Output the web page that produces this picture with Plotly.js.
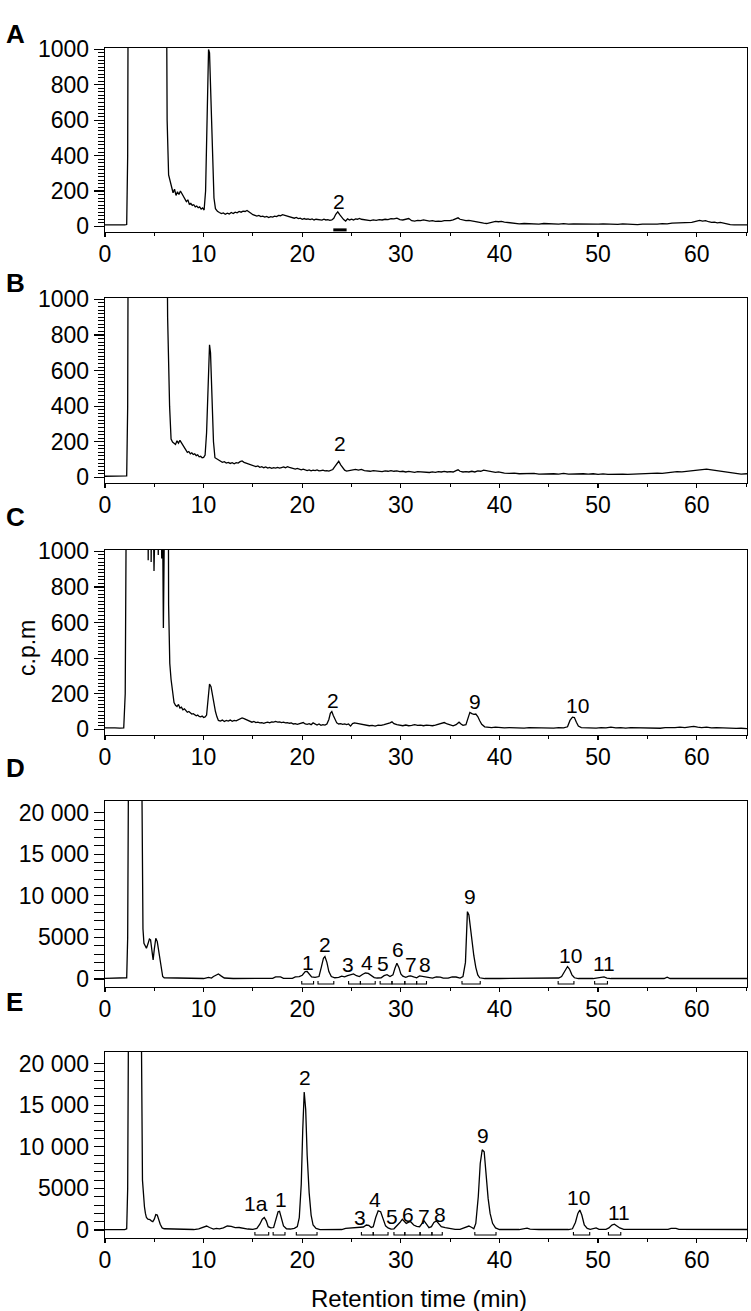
<!DOCTYPE html>
<html>
<head>
<meta charset="utf-8">
<script src="https://cdn.plot.ly/plotly-3.0.1.min.js"></script>
<style>html,body{margin:0;padding:0;background:#fff}#chart{width:751px;height:1311px}</style>
</head>
<body>
<div id="chart"></div>
<script>
// [retention time (min), signal]
const chromA = [[0,8],[0.5,7],[1,8],[1.5,6],[2,8],[2.2,10],[2.3,400],[2.38,2000],[3,3000],[6.1,3000],[6.3,600],[6.45,290],[6.6,260],[6.75,235],[6.9,190],[7.05,210],[7.2,175],[7.35,195],[7.5,180],[7.65,200],[7.8,185],[7.95,170],[8.1,160],[8.25,140],[8.4,150],[8.55,125],[8.7,130],[8.85,118],[9,122],[9.15,110],[9.3,115],[9.45,105],[9.6,110],[9.75,98],[9.9,104],[10.05,92],[10.2,200],[10.35,600],[10.5,1000],[10.6,980],[10.75,700],[10.9,380],[11.05,160],[11.2,100],[11.4,85],[11.6,78],[11.8,72],[12,76],[12.2,68],[12.4,74],[12.6,70],[12.8,78],[13,72],[13.2,80],[13.4,76],[13.6,84],[13.8,80],[14,86],[14.2,84],[14.4,90],[14.6,80],[14.8,74],[15,66],[15.2,62],[15.4,58],[15.6,62],[15.8,55],[16,58],[16.2,52],[16.4,56],[16.6,50],[16.8,55],[17,52],[17.2,58],[17.4,55],[17.6,62],[17.8,60],[18,66],[18.2,62],[18.4,58],[18.6,55],[18.8,52],[19,50],[19.2,46],[19.4,50],[19.6,44],[19.8,46],[20,40],[20.2,44],[20.4,40],[20.6,42],[20.8,38],[21,42],[21.2,36],[21.4,40],[21.6,37],[21.8,38],[22,35],[22.2,40],[22.4,36],[22.6,38],[22.8,34],[23,36],[23.2,45],[23.4,68],[23.6,82],[23.8,66],[24,48],[24.2,38],[24.4,30],[24.6,42],[24.8,36],[25,40],[25.2,36],[25.4,42],[25.6,40],[25.8,45],[26,40],[26.3,36],[26.6,34],[26.9,32],[27.2,36],[27.5,34],[27.8,38],[28.1,36],[28.4,40],[28.7,38],[29,44],[29.3,42],[29.6,46],[29.9,38],[30.2,36],[30.5,38],[30.8,44],[31.1,32],[31.4,30],[31.7,34],[32,32],[32.3,36],[32.6,33],[32.9,30],[33.2,32],[33.5,28],[33.8,30],[34.1,28],[34.4,32],[34.7,30],[35,32],[35.3,36],[35.6,42],[35.8,48],[36,40],[36.3,34],[36.6,32],[36.9,34],[37.2,30],[37.5,28],[37.8,24],[38.1,20],[38.4,18],[38.7,16],[39,20],[39.3,24],[39.6,28],[39.9,26],[40.2,28],[40.5,24],[40.8,22],[41.1,18],[41.4,16],[41.7,18],[42,14],[42.5,16],[43,14],[43.5,16],[44,12],[44.5,16],[45,14],[45.5,16],[46,13],[46.5,15],[47,12],[47.5,14],[48,13],[48.5,14],[49,12],[49.5,14],[50,12],[50.5,14],[51,12],[51.5,13],[52,11],[52.5,14],[53,12],[53.5,14],[54,10],[54.5,12],[55,11],[55.5,13],[56,12],[56.5,15],[57,14],[57.5,18],[58,20],[58.5,18],[59,24],[59.5,22],[60,30],[60.3,34],[60.6,30],[60.9,32],[61.2,26],[61.5,22],[61.8,24],[62.1,20],[62.4,22],[62.7,18],[63,14],[63.4,10],[63.8,8],[64.2,9],[64.6,8],[65.1,8]];

const chromB = [[0,6],[0.5,7],[1,5],[1.5,7],[2,6],[2.2,8],[2.3,400],[2.38,2000],[3,3000],[6.1,3000],[6.35,900],[6.55,400],[6.7,215],[6.85,198],[7,192],[7.15,185],[7.3,205],[7.45,192],[7.6,208],[7.75,195],[7.9,180],[8.05,165],[8.2,150],[8.35,140],[8.5,145],[8.65,132],[8.8,138],[8.95,128],[9.1,132],[9.25,122],[9.4,126],[9.55,115],[9.7,118],[9.85,110],[10,112],[10.15,125],[10.3,250],[10.45,550],[10.6,745],[10.7,700],[10.85,450],[11,200],[11.15,110],[11.3,104],[11.5,96],[11.7,90],[11.9,84],[12.1,88],[12.3,80],[12.5,84],[12.7,78],[12.9,82],[13.1,76],[13.3,82],[13.5,80],[13.7,88],[13.9,92],[14.1,84],[14.3,80],[14.5,76],[14.7,70],[14.9,68],[15.1,62],[15.3,60],[15.5,64],[15.7,56],[15.9,60],[16.1,54],[16.3,58],[16.5,52],[16.7,56],[16.9,50],[17.1,54],[17.3,52],[17.5,56],[17.7,52],[17.9,55],[18.1,58],[18.3,54],[18.5,60],[18.7,56],[18.9,52],[19.1,50],[19.3,46],[19.5,50],[19.7,44],[19.9,42],[20.1,46],[20.3,40],[20.5,38],[20.7,42],[20.9,36],[21.1,40],[21.3,38],[21.5,42],[21.7,36],[21.9,38],[22.1,40],[22.3,36],[22.5,38],[22.7,35],[22.9,38],[23.1,44],[23.3,60],[23.5,78],[23.7,90],[23.9,70],[24.1,52],[24.3,40],[24.5,35],[24.8,38],[25.1,42],[25.4,45],[25.7,40],[26,44],[26.3,38],[26.6,36],[26.9,34],[27.2,38],[27.5,36],[27.8,34],[28.1,32],[28.4,36],[28.7,34],[29,38],[29.3,34],[29.6,36],[29.9,32],[30.2,34],[30.5,30],[30.8,33],[31.1,30],[31.4,28],[31.7,32],[32,30],[32.3,28],[32.6,30],[32.9,27],[33.2,30],[33.5,28],[33.8,32],[34.1,30],[34.4,33],[34.7,30],[35,32],[35.3,30],[35.6,38],[35.8,42],[36,34],[36.3,30],[36.6,32],[36.9,30],[37.2,34],[37.5,30],[37.8,36],[38.1,34],[38.4,40],[38.7,36],[39,32],[39.3,30],[39.6,28],[39.9,30],[40.2,26],[40.5,24],[41,22],[41.5,24],[42,20],[42.5,22],[43,20],[43.5,22],[44,18],[44.5,20],[45,18],[45.5,20],[46,18],[46.5,22],[47,18],[47.5,20],[48,22],[48.5,20],[49,18],[49.5,20],[50,17],[50.5,19],[51,16],[51.5,18],[52,16],[52.5,18],[53,16],[53.5,18],[54,20],[54.5,18],[55,20],[55.5,22],[56,24],[56.5,22],[57,26],[57.5,28],[58,32],[58.5,30],[59,34],[59.5,36],[60,40],[60.5,44],[61,46],[61.5,42],[62,38],[62.5,34],[63,28],[63.5,24],[64,20],[64.5,18],[65.1,20]];

const chromC = [[0,8],[0.5,6],[1,8],[1.5,7],[1.9,8],[2.05,200],[2.18,1500],[3,3000],[4.3,3000],[4.38,950],[4.45,1500],[4.6,3000],[4.68,940],[4.75,1400],[4.9,1200],[4.97,890],[5.05,1500],[5.3,1800],[5.4,980],[5.5,1600],[5.65,1500],[5.75,960],[5.85,1100],[5.92,570],[6,1100],[6.05,3000],[6.35,3000],[6.45,700],[6.57,370],[6.7,280],[6.85,200],[7,150],[7.15,135],[7.3,128],[7.45,140],[7.6,120],[7.75,125],[7.9,110],[8.05,115],[8.2,104],[8.35,96],[8.5,100],[8.65,92],[8.8,86],[8.95,88],[9.1,80],[9.25,76],[9.4,80],[9.55,72],[9.7,70],[9.85,74],[10,66],[10.15,70],[10.3,80],[10.45,180],[10.6,255],[10.75,240],[10.9,190],[11.05,150],[11.2,100],[11.35,70],[11.5,50],[11.7,46],[11.9,52],[12.1,44],[12.3,50],[12.5,46],[12.7,52],[12.9,45],[13.1,50],[13.3,48],[13.5,52],[13.7,56],[13.9,64],[14.1,60],[14.3,54],[14.5,48],[14.7,44],[14.9,40],[15.1,44],[15.3,38],[15.5,40],[15.7,36],[15.9,38],[16.1,34],[16.3,38],[16.5,40],[16.7,36],[16.9,42],[17.1,40],[17.3,44],[17.5,40],[17.7,42],[17.9,38],[18.1,40],[18.3,36],[18.5,38],[18.7,34],[18.9,36],[19.1,30],[19.3,32],[19.5,28],[19.7,30],[19.9,34],[20.1,38],[20.3,30],[20.5,28],[20.7,32],[20.9,26],[21.1,36],[21.3,28],[21.5,24],[21.7,30],[21.9,22],[22.1,26],[22.3,24],[22.5,30],[22.7,55],[22.85,90],[23,100],[23.15,78],[23.3,55],[23.5,36],[23.7,30],[23.9,32],[24.1,28],[24.3,30],[24.5,26],[24.7,30],[24.9,18],[25.1,32],[25.3,36],[25.5,34],[25.7,28],[25.9,30],[26.1,26],[26.3,22],[26.5,24],[26.8,20],[27.1,22],[27.4,18],[27.7,24],[28,22],[28.3,26],[28.6,30],[28.9,36],[29.1,42],[29.3,32],[29.6,26],[29.9,22],[30.2,20],[30.5,24],[30.8,20],[31.1,22],[31.4,26],[31.7,22],[32,24],[32.3,20],[32.6,24],[32.9,22],[33.2,20],[33.5,24],[33.8,28],[34.1,34],[34.4,38],[34.7,30],[35,24],[35.3,20],[35.6,26],[35.9,40],[36.1,30],[36.3,22],[36.6,26],[36.8,60],[37,95],[37.2,88],[37.4,84],[37.6,86],[37.8,72],[38,48],[38.2,28],[38.5,14],[38.8,12],[39.2,10],[39.6,12],[40,10],[40.5,8],[41,10],[41.5,8],[42,10],[42.5,7],[43,9],[43.5,8],[44,10],[44.5,8],[45,9],[45.5,7],[46,10],[46.5,8],[46.9,14],[47.15,50],[47.4,68],[47.6,66],[47.8,40],[48,18],[48.3,10],[48.8,8],[49.3,9],[49.8,7],[50.3,10],[50.8,8],[51.3,12],[51.8,8],[52.3,10],[52.8,7],[53.3,9],[53.8,8],[54.3,10],[54.8,8],[55.3,6],[55.8,8],[56.3,6],[56.8,9],[57.3,8],[57.8,10],[58.3,12],[58.8,10],[59.3,14],[59.7,16],[60.1,12],[60.5,10],[61,12],[61.5,8],[62,10],[62.5,8],[63,6],[63.5,8],[64,5],[64.5,6],[65.1,4]];

const chromD = [[0,80],[1,80],[2,80],[2.2,150],[2.3,5000],[2.4,30000],[3.7,30000],[3.85,6000],[3.95,4300],[4.1,4000],[4.2,3700],[4.35,4200],[4.5,4800],[4.62,4700],[4.75,3200],[4.88,2300],[5,3600],[5.15,4900],[5.3,4500],[5.45,3200],[5.56,2700],[5.7,1200],[5.85,300],[6,150],[7,130],[8,100],[8.3,40],[9,40],[10,60],[10.5,200],[10.8,120],[11,300],[11.3,500],[11.5,600],[11.8,350],[12.1,120],[13,60],[14,60],[15,70],[16,60],[17,80],[17.3,250],[17.8,260],[18.1,80],[19,80],[19.3,250],[19.7,280],[20,450],[20.3,880],[20.5,900],[20.7,600],[20.95,250],[21.3,200],[21.7,300],[21.95,1500],[22.15,2500],[22.3,2700],[22.5,2000],[22.7,900],[22.95,300],[23.3,150],[23.7,200],[24,350],[24.3,250],[24.6,400],[24.9,550],[25.2,620],[25.5,400],[25.8,300],[26.1,550],[26.4,720],[26.7,680],[27,400],[27.3,180],[27.6,120],[28,150],[28.3,400],[28.6,520],[28.9,300],[29.2,500],[29.4,1300],[29.6,1900],[29.8,1400],[30,600],[30.2,350],[30.5,200],[30.8,350],[31,380],[31.3,250],[31.6,150],[31.9,380],[32.2,320],[32.5,200],[32.9,150],[33.2,100],[33.6,260],[34,240],[34.3,100],[34.8,100],[35.2,250],[35.6,240],[36,120],[36.3,300],[36.55,2000],[36.75,8100],[36.9,7700],[37.05,6200],[37.2,4500],[37.4,2800],[37.6,1400],[37.8,500],[38,150],[38.5,60],[40,60],[42,60],[44,50],[45.5,60],[46,120],[46.3,300],[46.6,900],[46.9,1500],[47.1,1200],[47.35,500],[47.6,150],[48,60],[49.5,60],[49.9,150],[50.2,250],[50.6,250],[50.9,120],[51.3,60],[53,60],[55,60],[56.7,60],[57,220],[57.3,60],[60,60],[65.1,60]];

const chromE = [[0,50],[1,50],[2,50],[2.2,150],[2.3,5000],[2.4,30000],[3.65,30000],[3.8,6000],[3.9,4000],[4,2800],[4.1,2000],[4.2,1500],[4.35,1300],[4.55,1250],[4.7,1100],[4.85,1000],[5,1300],[5.15,1850],[5.3,1800],[5.45,1100],[5.6,700],[5.8,250],[6,150],[7,120],[8,100],[9,60],[9.5,150],[10,350],[10.3,480],[10.6,300],[11,100],[11.3,200],[11.6,150],[12,250],[12.4,480],[12.8,450],[13.2,280],[13.6,300],[14,200],[14.5,120],[15,80],[15.4,200],[15.7,700],[15.95,1300],[16.15,1500],[16.35,1100],[16.55,400],[16.8,250],[17.1,300],[17.35,1500],[17.55,2200],[17.7,2250],[17.9,1500],[18.1,500],[18.4,150],[18.8,120],[19.2,200],[19.5,400],[19.7,1500],[19.9,5500],[20.05,12000],[20.2,16600],[20.35,14500],[20.5,9000],[20.7,4500],[20.9,1800],[21.1,600],[21.4,200],[21.8,50],[23,50],[24,60],[24.4,200],[25,280],[25.6,300],[26.2,360],[26.5,600],[26.75,550],[27,300],[27.2,400],[27.45,1500],[27.7,2300],[27.95,2200],[28.2,1300],[28.45,500],[28.7,250],[29,100],[29.3,150],[29.6,500],[29.9,900],[30.15,1300],[30.35,1000],[30.55,800],[30.8,950],[31,1000],[31.3,600],[31.6,450],[31.9,400],[32.1,700],[32.35,1100],[32.6,700],[32.85,280],[33.1,400],[33.35,900],[33.6,1100],[33.85,700],[34.1,400],[34.5,300],[35,200],[35.5,80],[36,80],[36.5,300],[36.9,480],[37.2,300],[37.4,150],[37.6,800],[37.85,4000],[38.05,8000],[38.25,9650],[38.45,9400],[38.65,6500],[38.85,3800],[39.05,2000],[39.3,800],[39.6,250],[40,60],[42,60],[42.5,150],[42.8,220],[43.1,100],[44,60],[47,60],[47.4,150],[47.7,900],[47.95,2000],[48.15,2400],[48.35,1800],[48.6,600],[48.9,200],[49.2,80],[49.5,200],[49.8,250],[50.1,80],[50.8,80],[51.1,250],[51.4,600],[51.65,700],[51.9,500],[52.2,250],[52.6,80],[56,60],[57.1,80],[57.4,200],[57.9,200],[58.2,80],[60,60],[65.1,60]];

// collected fractions (start, end in min)
const fracStartA = [23.15];
const fracEndA = [24.5];
const fracStartD = [19.95, 21.6, 24.7, 25.9, 27.9, 29.1, 30.4, 31.6, 36.2, 45.95, 49.65];
const fracEndD = [21.15, 23.2, 25.9, 27.4, 29.1, 30.4, 31.6, 32.6, 38.05, 47.55, 50.95];
const fracStartE = [15.2, 17.05, 19.4, 26.0, 27.2, 29.3, 30.4, 31.95, 33.15, 37.5, 47.5, 51.05];
const fracEndE = [16.6, 18.25, 21.5, 27.2, 28.7, 30.4, 31.95, 33.15, 34.2, 39.65, 49.15, 52.3];

// peak labels
const peakTextA = ['2'];
const peakTimeA = [23.75];
const peakYA = [141];
const peakTextB = ['2'];
const peakTimeB = [23.84];
const peakYB = [192];
const peakTextC = ['2', '9', '10'];
const peakTimeC = [23.16, 37.54, 47.9];
const peakYC = [160, 156, 135];
const peakTextD = ['1', '2', '3', '4', '5', '6', '7', '8', '9', '10', '11'];
const peakTimeD = [20.62, 22.3, 24.68, 26.55, 28.17, 29.76, 31.05, 32.47, 37.04, 47.19, 50.57];
const peakYD = [1990, 4110, 1800, 1990, 1910, 3510, 1710, 1710, 9890, 2790, 1910];
const peakTextE = ['1a', '1', '2', '3', '4', '5', '6', '7', '8', '9', '10', '11'];
const peakTimeE = [15.31, 17.85, 20.28, 25.9, 27.39, 29.09, 30.77, 32.3, 33.92, 38.32, 48.03, 52.09];
const peakYE = [3150, 3670, 18330, 1480, 3670, 1670, 1880, 1670, 1880, 11310, 3940, 2080];

// tick labels
const smallTicks = [0, 200, 400, 600, 800, 1000];
const bigTicks = [0, 5000, 10000, 15000, 20000];
const bigTickText = ['0', '5000', '10 000', '15 000', '20 000'];
const timeTicks = [0, 10, 20, 30, 40, 50, 60];
const panelLetters = ['A', 'B', 'C', 'D', 'E'];

const FONT = 'Liberation Sans, Arial, Helvetica, sans-serif';
const W = 751, H = 1311;
const M = {l: 105, r: 4, t: 48, b: 73};
const plotW = W - M.l - M.r, plotH = H - M.t - M.b;
// pixel top/bottom of every panel frame
const panelTop = [48, 298, 550, 801, 1052];
const panelBot = [232, 483, 735, 987, 1238];
const px = (x) => (x - M.l) / plotW;
const py = (y) => (H - M.b - y) / plotH;

const chroms = [chromA, chromB, chromC, chromD, chromE];
const suffix = ['', '2', '3', '4', '5'];

const traces = chroms.map((c, i) => ({
  x: c.map((p) => p[0]),
  y: c.map((p) => p[1]),
  xaxis: 'x' + suffix[i],
  yaxis: 'y' + suffix[i],
  type: 'scatter',
  mode: 'lines',
  line: {color: '#000', width: 1.3},
  hoverinfo: 'skip',
}));

const bracket = (starts, ends, base, top, i) => {
  const x = [], y = [];
  starts.forEach((s, k) => {
    x.push(s, s, ends[k], ends[k], null);
    y.push(top, base, base, top, null);
  });
  return {x, y, xaxis: 'x' + suffix[i], yaxis: 'y' + suffix[i], type: 'scatter', mode: 'lines',
    line: {color: '#000', width: 1.1}, hoverinfo: 'skip'};
};

// panel A: a single thick bar
traces.push({
  x: [fracStartA[0], fracEndA[0]], y: [-20, -20], xaxis: 'x', yaxis: 'y',
  type: 'scatter', mode: 'lines', line: {color: '#000', width: 3}, hoverinfo: 'skip',
});
traces.push(bracket(fracStartD, fracEndD, -600, -250, 3));
traces.push(bracket(fracStartE, fracEndE, -600, -250, 4));

const layout = {
  width: W, height: H,
  margin: M,
  paper_bgcolor: '#fff', plot_bgcolor: '#fff',
  showlegend: false,
  font: {family: FONT, size: 23, color: '#000'},
  annotations: [],
};

const minorSmall = [];
for (let v = 0; v <= 1000; v += 20) minorSmall.push(v);
const minorBig = [];
for (let v = 0; v <= 20000; v += 1000) minorBig.push(v);

for (let i = 0; i < 5; i++) {
  const big = i >= 3;
  layout['xaxis' + suffix[i]] = {
    domain: [0, 1], anchor: 'y' + suffix[i],
    range: [0, 65.1],
    tickmode: 'array', tickvals: timeTicks,
    ticks: 'outside', ticklen: 4, tickwidth: 1.2, tickcolor: '#000',
    minor: {tickmode: 'linear', tick0: 0, dtick: 5, ticks: 'outside', ticklen: 3, tickwidth: 1, tickcolor: '#000'},
    showline: true, mirror: true, linecolor: '#000', linewidth: 1.3,
    showgrid: false, zeroline: false,
    tickfont: {size: 23},
    ticklabelstandoff: -3,
  };
  layout['yaxis' + suffix[i]] = {
    domain: [py(panelBot[i]), py(panelTop[i])], anchor: 'x' + suffix[i],
    range: big ? [-960, 21400] : [-32, 1008],
    tickmode: 'array',
    tickvals: big ? bigTicks : smallTicks,
    ticktext: big ? bigTickText : smallTicks.map(String),
    ticks: 'outside', ticklen: 10, tickwidth: 1.2, tickcolor: '#000',
    minor: {tickmode: 'array', tickvals: big ? minorBig : minorSmall, ticks: 'outside',
      ticklen: big ? 10 : 6, tickwidth: 1, tickcolor: '#000'},
    showline: true, mirror: true, linecolor: '#000', linewidth: 1.3,
    showgrid: false, zeroline: false,
    tickfont: {size: 23},
  };
  layout.annotations.push({
    xref: 'paper', yref: 'paper', x: px(4), xanchor: 'left', y: py([17, 266, 517, 768, 1019][i]),
    text: '<b>' + panelLetters[i] + '</b>', showarrow: false,
    font: {size: 26, family: FONT},
  });
}

const peakSets = [
  [peakTextA, peakTimeA, peakYA], [peakTextB, peakTimeB, peakYB], [peakTextC, peakTimeC, peakYC],
  [peakTextD, peakTimeD, peakYD], [peakTextE, peakTimeE, peakYE],
];
peakSets.forEach((set, i) => {
  set[0].forEach((t, k) => {
    layout.annotations.push({
      xref: 'x' + suffix[i], yref: 'y' + suffix[i], x: set[1][k], y: set[2][k],
      text: t, showarrow: false, font: {size: 21},
    });
  });
});

layout.annotations.push({
  xref: 'paper', yref: 'paper', x: px(12), y: py(648), text: 'c.p.m',
  textangle: -90, showarrow: false, font: {size: 23},
});
layout.annotations.push({
  xref: 'paper', yref: 'paper', x: px(419), y: py(1283), yanchor: 'top',
  text: 'Retention time (min)', showarrow: false, font: {size: 24},
});

Plotly.newPlot('chart', traces, layout, {displayModeBar: false, staticPlot: true});
</script>
</body>
</html>
